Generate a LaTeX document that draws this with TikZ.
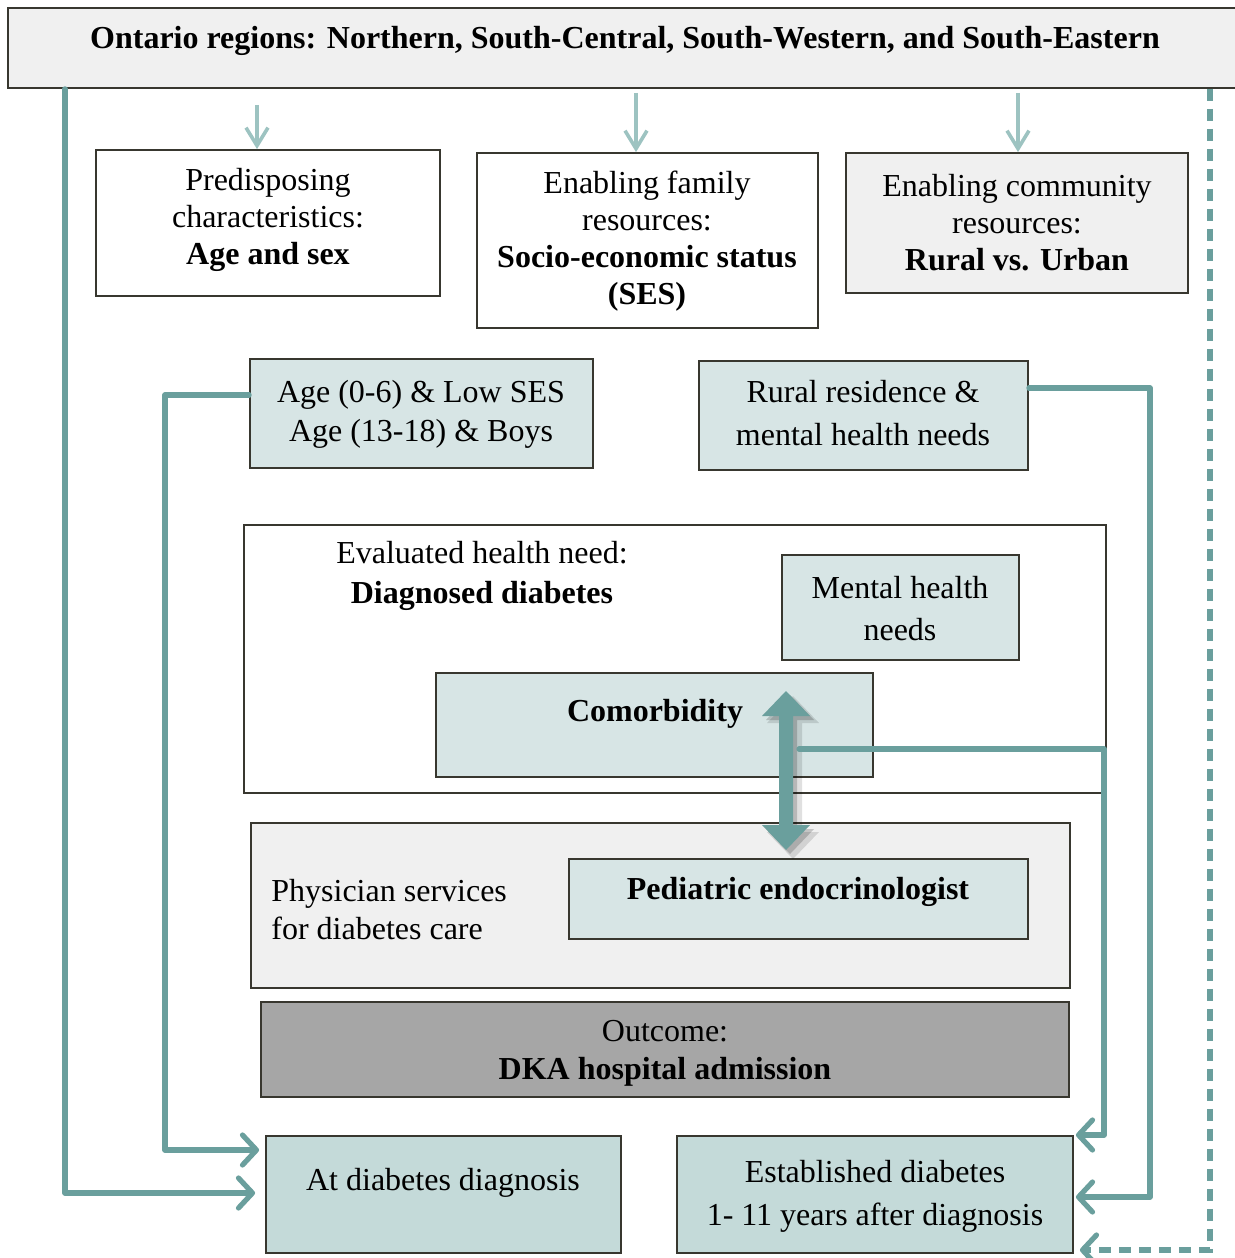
\documentclass[tikz,border=0pt]{standalone}
\usepackage{fontspec}
\setmainfont{Liberation Serif}
\usetikzlibrary{arrows.meta,fit}
\definecolor{tealc}{HTML}{6A9F9D}
\definecolor{lightteal}{HTML}{9DC3C1}
\definecolor{boxgray}{HTML}{F0F0F0}
\definecolor{boxteal}{HTML}{D7E5E5}
\definecolor{boxteal2}{HTML}{C4DAD9}
\definecolor{outgray}{HTML}{A6A6A6}
\definecolor{bordc}{HTML}{38372F}
\begin{document}
\begin{tikzpicture}[x=0.5pt,y=-0.5pt,
  box/.style={draw=bordc,line width=0.9pt,inner sep=0pt,rectangle},
  txt/.style={inner sep=0pt,align=center,yshift=-1.5pt,font=\fontsize{16}{18.5}\selectfont},
  tline/.style={draw=tealc,line width=2.6pt,line cap=round,line join=round},
  tarrow/.style={tline,-{Straight Barb[length=7pt,width=15pt,round]}},
  larrow/.style={draw=lightteal,line width=1.8pt,-{Straight Barb[length=9pt,width=11pt]}},
  dline/.style={draw=tealc,line width=2.6pt,dash pattern=on 6pt off 4pt,-{Straight Barb[length=7pt,width=15pt,round]}}]
\clip (0,0) rectangle (1235,1258);
% boxes
\node[box,fill=boxgray,fit={(8,8)(1240,88)}] (top) {};
\node[txt,font=\fontsize{16}{18.5}\selectfont\bfseries] (toptxt) at (625,38) {Ontario regions: Northern, South-Central, South-Western, and South-Eastern};

\node[box,fill=white,fit={(96,150)(440,296)}] (pred) {};
\node[txt] (predt) at (268,217) {Predisposing\\characteristics:\\\textbf{Age and sex}};

\node[box,fill=white,fit={(477,153)(818,328)}] (fam) {};
\node[txt] (famt) at (647,238.5) {Enabling family\\resources:\\\textbf{Socio-economic status}\\\textbf{(SES)}};

\node[box,fill=boxgray,fit={(846,153)(1188,293)}] (com) {};
\node[txt] (comt) at (1017,220) {Enabling community\\resources:\\\textbf{Rural vs. Urban}};

\node[box,fill=boxteal,fit={(250,359)(593,468)}] (age) {};
\node[txt,font=\fontsize{16}{19.5}\selectfont] (aget) at (421,411.5) {Age (0-6) \& Low SES\\Age (13-18) \& Boys};

\node[box,fill=boxteal,fit={(699,361)(1028,470)}] (rur) {};
\node[txt,font=\fontsize{16}{21.5}\selectfont] (rurt) at (863,410.5) {Rural residence \&\\mental health needs};

\node[box,fill=white,fit={(244,525)(1106,793)}] (eval) {};
\node[txt,font=\fontsize{16}{20}\selectfont] (evalt) at (482,573) {Evaluated health need:\\\textbf{Diagnosed diabetes}};

\node[box,fill=boxteal,fit={(782,555)(1019,660)}] (ment) {};
\node[txt,font=\fontsize{16}{21}\selectfont] (mentt) at (900,606) {Mental health\\needs};

\node[box,fill=boxteal,fit={(436,673)(873,777)}] (comor) {};
\node[txt,font=\fontsize{16}{18.5}\selectfont\bfseries] (comort) at (655,711) {Comorbidity};

\node[box,fill=boxgray,fit={(251,823)(1070,988)}] (phys) {};
\node[txt,align=left,anchor=west,font=\fontsize{16}{19}\selectfont] (physt) at (271,907) {Physician services\\for diabetes care};

\node[box,fill=boxteal,fit={(569,859)(1028,939)}] (ped) {};
\node[txt,font=\fontsize{16}{18.5}\selectfont\bfseries] (pedt) at (798,889) {Pediatric endocrinologist};

\node[box,fill=outgray,fit={(261,1002)(1069,1097)}] (out) {};
\node[txt,font=\fontsize{16}{19}\selectfont] (outt) at (665,1050) {Outcome:\\\textbf{DKA hospital admission}};

\node[box,fill=boxteal2,fit={(266,1136)(621,1253)}] (atd) {};
\node[txt] (atdt) at (443,1180) {At diabetes diagnosis};

\node[box,fill=boxteal2,fit={(677,1136)(1073,1253)}] (est) {};
\node[txt,font=\fontsize{16}{21.5}\selectfont] (estt) at (875,1193.5) {Established diabetes\\1- 11 years after diagnosis};

% light arrows from the top box
\coordinate (a1) at (257,0);
\coordinate (a2) at (636,0);
\coordinate (a3) at (1018,0);
\draw[larrow,shorten <=8pt] (top.south -| a1) -- (pred.north -| a1);
\draw[larrow,shorten <=2pt] (top.south -| a2) -- (fam.north -| a2);
\draw[larrow,shorten <=2pt] (top.south -| a3) -- (com.north -| a3);

% left solid connector from top box
\coordinate (l1) at (65,1193);
\draw[tarrow,shorten >=5pt] (top.south -| l1) |- (atd.west |- l1);

% from age box
\coordinate (l2a) at (250,395);
\coordinate (l2) at (165,1150);
\draw[tarrow,shorten >=3pt] (age.west |- l2a) -| (l2) -- (atd.west |- l2);

% from rural box
\coordinate (r1a) at (1028,388);
\coordinate (r1) at (1150,1197);
\draw[tarrow] (rur.east |- r1a) -| (r1) -- ([xshift=1pt]est.east |- r1);

% double arrow comorbidity <-> pediatric endocrinologist
\fill[black,opacity=0.12,xshift=3.5pt,yshift=-3.5pt] (786,689) -- (812,716) -- (795,716) -- (795,825) -- (812,825) -- (786,852) -- (760,825) -- (777,825) -- (777,716) -- (760,716) -- cycle;
\fill[black,opacity=0.18,xshift=2pt,yshift=-2pt] (786,691) -- (810,716) -- (793,716) -- (793,825) -- (810,825) -- (786,850) -- (762,825) -- (779,825) -- (779,716) -- (762,716) -- cycle;
\fill[tealc] (786,691) -- (810,716) -- (793,716) -- (793,825) -- (810,825) -- (786,850) -- (762,825) -- (779,825) -- (779,716) -- (762,716) -- cycle;

% from comorbidity arrow to established
\coordinate (c1a) at (799,749);
\coordinate (c1) at (1104,1135);
\draw[tarrow] (c1a) -| (c1) -- ([xshift=1pt]est.east |- c1);

% dashed from top box
\coordinate (d1) at (1210,1250);
\draw[dline] (top.south -| d1) |- ([xshift=3pt]est.east |- d1);
\end{tikzpicture}
\end{document}
